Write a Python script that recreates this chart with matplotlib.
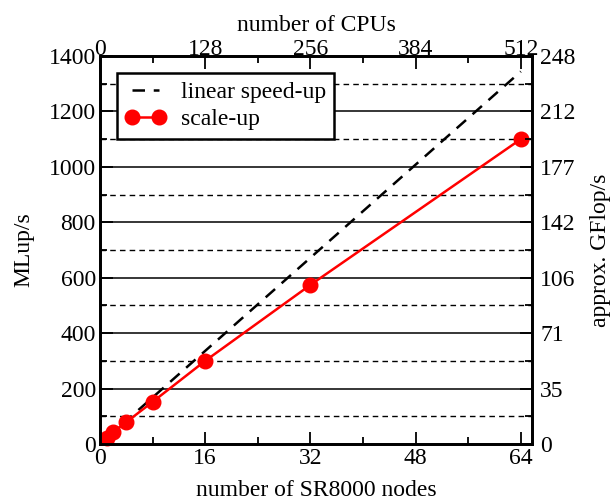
import matplotlib
matplotlib.use("Agg")
import matplotlib.pyplot as plt
from matplotlib.ticker import MultipleLocator, FixedLocator

plt.rcParams['font.family'] = ['Liberation Serif', 'DejaVu Serif']
plt.rcParams['font.size'] = 17

nodes = [1, 2, 4, 8, 16, 32, 64]
scale_up = [21, 43, 79, 152, 300, 574, 1100]
linear_nodes = [1, 64]
linear_speedup = [21, 1344]
cpus_per_node = 8
gflop_per_mlup = 0.177
gflop_labels = ['0', '35', '71', '106', '142', '177', '212', '248']

fig = plt.figure(figsize=(6.15, 5.01), dpi=100)
ax = fig.add_axes([100/615, 1-444/501, 432/615, 388/501])

xmax = 65.7
ymax = 1400
ax.set_xlim(0, xmax)
ax.set_ylim(0, ymax)

# grid lines
for v in range(200, 1400, 200):
    ax.axhline(v, color='black', lw=1.1, zorder=1)
for v in range(100, 1400, 200):
    ax.axhline(v, color='black', lw=1.0, ls=(0, (4, 3)), zorder=1)

ax.plot(linear_nodes, linear_speedup, color='black', lw=1.8, ls=(0, (5, 3.5)),
        label='linear speed-up', zorder=3)
ax.plot(nodes, scale_up, color='red', lw=1.8, marker='o', ms=10.5,
        label='scale-up', zorder=4, clip_on=False)

ax.xaxis.set_major_locator(MultipleLocator(16))
ax.xaxis.set_minor_locator(MultipleLocator(8))
ax.yaxis.set_major_locator(MultipleLocator(200))
ax.yaxis.set_minor_locator(MultipleLocator(100))
ax.tick_params(which='both', direction='in', width=1.3)
ax.tick_params(which='major', length=9, pad=3)
ax.tick_params(which='minor', length=5)
for s in ax.spines.values():
    s.set_linewidth(1.8)

ax.set_xlabel('number of SR8000 nodes', labelpad=8)
ax.set_ylabel('MLup/s', labelpad=10)

# right axis
axr = ax.twinx()
axr.set_ylim(0, ymax * gflop_per_mlup)
axr.yaxis.set_major_locator(FixedLocator([200 * k * gflop_per_mlup for k in range(8)]))
axr.set_yticklabels(gflop_labels)
axr.yaxis.set_minor_locator(FixedLocator([(100 + 200 * k) * gflop_per_mlup for k in range(7)]))
axr.tick_params(which='both', direction='in', width=1.3)
axr.tick_params(which='major', length=9, pad=6)
axr.tick_params(which='minor', length=5)
axr.set_ylabel('approx. GFlop/s', labelpad=10)

# top axis
axt = ax.twiny()
axt.set_xlim(0, xmax * cpus_per_node)
axt.xaxis.set_major_locator(MultipleLocator(128))
axt.xaxis.set_minor_locator(MultipleLocator(64))
axt.tick_params(which='both', direction='in', width=1.3)
axt.tick_params(which='major', length=9, pad=-3)
axt.tick_params(which='minor', length=5)
axt.set_xlabel('number of CPUs', labelpad=6)
for a in (axr, axt):
    for s in a.spines.values():
        s.set_linewidth(1.8)

leg = ax.legend(loc='upper left', bbox_to_anchor=(0.039, 0.956), numpoints=2,
                fancybox=False, framealpha=1, edgecolor='black',
                borderpad=0.35, handlelength=1.75, handletextpad=0.6,
                labelspacing=0.25, borderaxespad=0, fontsize=17)
leg.get_frame().set_linewidth(1.8)
leg.set_zorder(10)

fig.savefig('out.png', dpi=100)
